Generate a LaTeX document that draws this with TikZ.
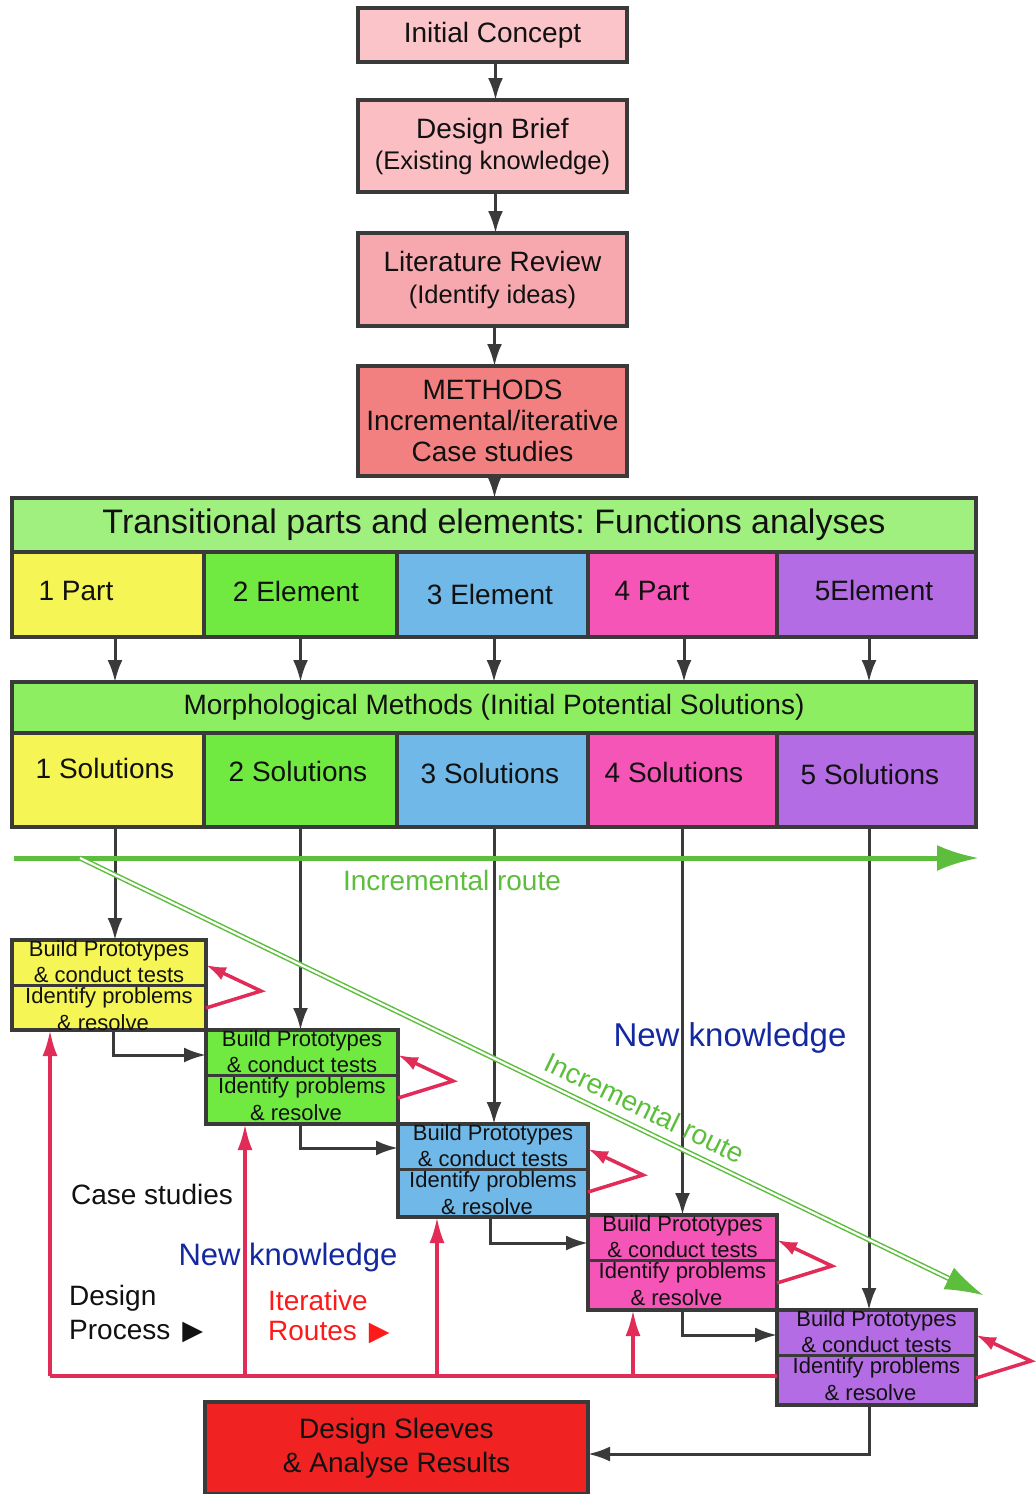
\documentclass[tikz,border=0pt]{standalone}
\usepackage{fontspec}
\setmainfont{Liberation Sans}
\newfontfamily\symfont{DejaVu Sans}
\usetikzlibrary{arrows.meta,calc}
\definecolor{bord}{RGB}{58,58,58}
\definecolor{txt}{RGB}{17,17,17}
\definecolor{cIC}{RGB}{250,196,200}
\definecolor{cDB}{RGB}{250,190,195}
\definecolor{cLR}{RGB}{246,168,174}
\definecolor{cME}{RGB}{242,128,128}
\definecolor{cTH}{RGB}{160,240,128}
\definecolor{cMH}{RGB}{140,238,96}
\definecolor{cY}{RGB}{245,245,85}
\definecolor{cG}{RGB}{112,234,64}
\definecolor{cB}{RGB}{112,184,232}
\definecolor{cP}{RGB}{245,85,182}
\definecolor{cV}{RGB}{180,108,228}
\definecolor{cDS}{RGB}{240,34,34}
\definecolor{grn}{RGB}{92,190,60}
\definecolor{redl}{RGB}{226,44,88}
\definecolor{blu}{RGB}{20,40,160}
\definecolor{rtxt}{RGB}{255,26,26}
\newcommand{\fsz}[2]{\fontsize{#1}{#2}\selectfont}
\begin{document}
\begin{tikzpicture}[x=1pt,y=-1pt,
  box/.style={draw=bord, line width=3.5pt, inner sep=0pt, outer sep=0pt, align=center, text=txt},
  lbl/.style={inner sep=0pt, text=txt},
  ga/.style={draw=bord, line width=3pt, -{Latex[length=22pt,width=15pt]}},
  divl/.style={draw=bord, line width=3pt},
  rl/.style={draw=redl, line width=3.5pt},
  ra/.style={draw=redl, line width=3.5pt, -{Latex[length=26pt,width=15pt]}},
  rloop/.style={draw=redl, line width=3.5pt, line join=miter, -{Latex[length=20pt,width=14pt]}},
  stg/.style={lbl, font=\fsz{22}{24}},
]
\useasboundingbox (0,0) rectangle (1036,1494);
\fill[white] (0,0) rectangle (1036,1494);

% top chain
\node[box, fill=cIC, minimum width=269pt, minimum height=54pt, font=\fsz{28}{31}] (ic) at (492.5,35) {Initial Concept};
\node[box, fill=cDB, minimum width=269pt, minimum height=92pt, font=\fsz{28}{31}] (db) at (492.5,146) {Design Brief\\{\fsz{25.5}{31}(Existing knowledge)}};
\node[box, fill=cLR, minimum width=269pt, minimum height=93pt, font=\fsz{28}{32}] (lr) at (492.5,279.5) {Literature Review\\{\fsz{25.5}{32}(Identify ideas)}};
\node[box, fill=cME, minimum width=269pt, minimum height=110pt, font=\fsz{28}{31}] (me) at (492.5,421) {METHODS\\Incremental/iterative\\Case studies};

% transitional header and parts
\node[box, fill=cTH, minimum width=964pt, minimum height=54pt, font=\fsz{34}{36}] (th) at (494,525) {Transitional parts and elements:\ Functions analyses};
\node[box, fill=cY, minimum width=192pt, minimum height=85pt] (p1) at (108,594.5) {};
\node[box, fill=cG, minimum width=193pt, minimum height=85pt] (p2) at (300.5,594.5) {};
\node[box, fill=cB, minimum width=191pt, minimum height=85pt] (p3) at (492.5,594.5) {};
\node[box, fill=cP, minimum width=189pt, minimum height=85pt] (p4) at (682.5,594.5) {};
\node[box, fill=cV, minimum width=199pt, minimum height=85pt] (p5) at (876.5,594.5) {};
\node[lbl, font=\fsz{28}{31}] (pt1) at (76,591) {1 Part};
\node[lbl, font=\fsz{28}{31}] (pt2) at (296,591) {2 Element};
\node[lbl, font=\fsz{28}{31}] (pt3) at (490,594) {3 Element};
\node[lbl, font=\fsz{28}{31}] (pt4) at (652,591) {4 Part};
\node[lbl, font=\fsz{28}{31}] (pt5) at (874,590) {5Element};

% morphological header and solutions
\node[box, fill=cMH, minimum width=964pt, minimum height=51pt, font=\fsz{28}{31}] (mh) at (494,707.5) {Morphological Methods (Initial Potential Solutions)};
\node[box, fill=cY, minimum width=192pt, minimum height=94pt] (m1) at (108,780) {};
\node[box, fill=cG, minimum width=193pt, minimum height=94pt] (m2) at (300.5,780) {};
\node[box, fill=cB, minimum width=191pt, minimum height=94pt] (m3) at (492.5,780) {};
\node[box, fill=cP, minimum width=189pt, minimum height=94pt] (m4) at (682.5,780) {};
\node[box, fill=cV, minimum width=199pt, minimum height=94pt] (m5) at (876.5,780) {};
\node[lbl, font=\fsz{28}{31}] (mt1) at (105,768) {1 Solutions};
\node[lbl, font=\fsz{28}{31}] (mt2) at (298,771) {2 Solutions};
\node[lbl, font=\fsz{28}{31}] (mt3) at (490,773) {3 Solutions};
\node[lbl, font=\fsz{28}{31}] (mt4) at (674,772) {4 Solutions};
\node[lbl, font=\fsz{28}{31}] (mt5) at (870,774) {5 Solutions};

% stage boxes
\node[box, fill=cY, minimum width=194pt, minimum height=90pt] (s1) at (109,985) {};
\node[box, fill=cG, minimum width=192pt, minimum height=94pt] (s2) at (302,1077) {};
\node[box, fill=cB, minimum width=190pt, minimum height=93pt] (s3) at (493,1170.5) {};
\node[box, fill=cP, minimum width=189pt, minimum height=95pt] (s4) at (682.5,1262.5) {};
\node[box, fill=cV, minimum width=199pt, minimum height=95pt] (s5) at (876.5,1357.5) {};
\foreach \s in {s1,s2,s3,s4,s5}{
  \draw[divl] ([yshift=-45pt]\s.north west) -- ([yshift=-45pt]\s.north east);
  \node[stg] (\s a) at ([yshift=-11pt]\s.north) {Build Prototypes};
  \node[stg] (\s b) at ([yshift=-35pt]\s.north) {\& conduct tests};
  \node[stg] (\s c) at ([yshift=-58pt]\s.north) {Identify problems};
  \node[stg] (\s d) at ([yshift=-83pt,xshift=-6pt]\s.north) {\& resolve};
}

% final box
\node[box, fill=cDS, minimum width=383pt, minimum height=92pt, font=\fsz{28}{34}] (ds) at (396.5,1448) {Design Sleeves\\\& Analyse Results};

% gray connectors top chain
\draw[ga] ([xshift=3pt]ic.south) -- ([xshift=3pt]db.north);
\draw[ga] ([xshift=3pt]db.south) -- ([xshift=3pt]lr.north);
\draw[ga] ([xshift=2pt]lr.south) -- ([xshift=2pt]me.north);
\draw[ga] ([xshift=2pt]me.south) -- ([xshift=2pt]me.south |- th.north);

% parts to morphological header
\draw[ga] ([xshift=7pt]p1.south) -- ([xshift=7pt]p1.south |- mh.north);
\draw[ga] (p2.south) -- (p2.south |- mh.north);
\draw[ga] ([xshift=1.5pt]p3.south) -- ([xshift=1.5pt]p3.south |- mh.north);
\draw[ga] ([xshift=1.5pt]p4.south) -- ([xshift=1.5pt]p4.south |- mh.north);
\draw[ga] ([xshift=-7.5pt]p5.south) -- ([xshift=-7.5pt]p5.south |- mh.north);

% solutions to stage boxes
\draw[ga] ([xshift=7pt]m1.south) -- ([xshift=7pt]m1.south |- s1.north);
\draw[ga] (m2.south) -- (m2.south |- s2.north);
\draw[ga] ([xshift=1.5pt]m3.south) -- ([xshift=1.5pt]m3.south |- s3.north);
\draw[ga] (m4.south) -- (m4.south |- s4.north);
\draw[ga] ([xshift=-7.5pt]m5.south) -- ([xshift=-7.5pt]m5.south |- s5.north);

% stage to stage
\draw[ga] ([xshift=4pt]s1.south) |- ([yshift=-25pt]s2.north west);
\draw[ga] ([xshift=-2pt]s2.south) |- ([yshift=-24pt]s3.north west);
\draw[ga] ([xshift=-3pt]s3.south) |- ([yshift=-28pt]s4.north west);
\draw[ga] ([xshift=0pt]s4.south) |- ([yshift=-25pt]s5.north west);
\draw[ga] ([xshift=-7.5pt]s5.south) |- ([yshift=-6pt]ds.east);

% red self loops
\foreach \s in {s1,s2,s3,s4,s5}{
  \draw[rloop] ([yshift=-68pt]\s.north east) -- ++(55,-17) -- ([yshift=-25pt]\s.north east);
}

% red iterative routes
\coordinate (rr) at ([yshift=-66pt]s5.north west);
\coordinate (r1) at ([xshift=38pt]s1.south west);
\coordinate (r2) at ([xshift=39pt]s2.south west);
\coordinate (r3) at ([xshift=39pt]s3.south west);
\coordinate (r4) at ([xshift=45pt]s4.south west);
\draw[rl] (rr) -- (r1 |- rr);
\draw[ra] (r1 |- rr) -- (r1);
\draw[ra] (r2 |- rr) -- (r2);
\draw[ra] (r3 |- rr) -- (r3);
\draw[ra] (r4 |- rr) -- (r4);

% incremental routes
\coordinate (h1) at (14,858);
\coordinate (h2) at (979,858);
\draw[draw=grn, line width=5pt, -{Latex[length=42pt,width=26pt]}] (h1) -- (h2);
\node[lbl, text=grn, font=\fsz{28}{31}] (hl) at (452,880) {Incremental route};

\coordinate (d1) at (80,858);
\coordinate (d2) at (983,1295);
\draw[draw=grn, line width=1.5pt, double=white, double distance=2.2pt, shorten >=30pt] (d1) -- (d2);
\draw[draw=grn, line width=1pt, -{Latex[length=38pt,width=24pt]}] ($(d2)!36pt!(d1)$) -- (d2);
\node[lbl, text=grn, font=\fsz{28}{31}, rotate=-25.8] (dl) at (645,1108) {Incremental route};

% free texts
\node[lbl, font=\fsz{28}{31}] (cs) at (152,1194) {Case studies};
\node[lbl, text=blu, font=\fsz{31}{34}] (nk1) at (288,1257) {New knowledge};
\node[lbl, text=blu, font=\fsz{33}{36}] (nk2) at (730,1038) {New knowledge};
\node[lbl, font=\fsz{28}{31}, anchor=west] (dp1) at (69,1298) {Design};
\node[lbl, font=\fsz{28}{31}, anchor=west] (dp2) at (69,1332) {Process\hspace{12pt}{\symfont\fsz{27}{28}▶}};
\node[lbl, text=rtxt, font=\fsz{28}{31}, anchor=west] (ir1) at (268,1300) {Iterative};
\node[lbl, text=rtxt, font=\fsz{28}{31}, anchor=west] (ir2) at (268,1333) {Routes\hspace{12pt}{\symfont\fsz{27}{28}▶}};
\end{tikzpicture}
\end{document}
